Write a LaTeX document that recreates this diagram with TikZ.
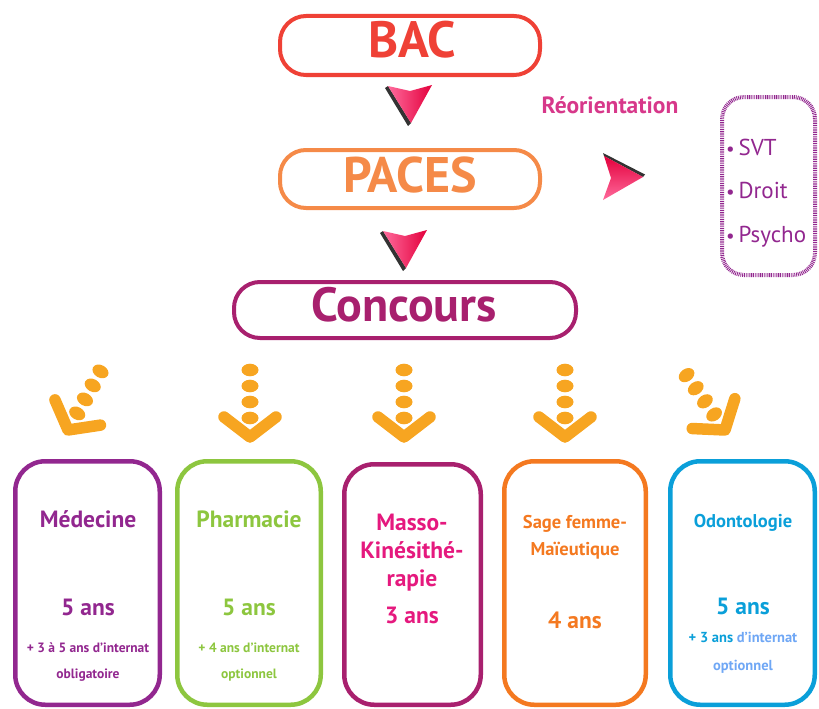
\documentclass[tikz,border=0pt]{standalone}
\usepackage{fontspec}
\setmainfont{PT Sans}
\definecolor{bacred}{HTML}{EF4136}
\definecolor{pacesor}{HTML}{F58A48}
\definecolor{concpur}{HTML}{A8206E}
\definecolor{reopink}{HTML}{D7388A}
\definecolor{medpur}{HTML}{92278F}
\definecolor{pharmgr}{HTML}{8DC63F}
\definecolor{massopk}{HTML}{E5197E}
\definecolor{sageor}{HTML}{F47920}
\definecolor{odonbl}{HTML}{0A9FD9}
\definecolor{odonlt}{HTML}{6FA7F5}
\definecolor{arrorange}{HTML}{F7A521}
\definecolor{pinkL}{HTML}{FF6A9C}
\definecolor{redD}{HTML}{E3003C}
\begin{document}
\begin{tikzpicture}[x=1pt,y=-1pt,
  pill/.style={draw, line width=4pt, rounded corners=26pt, inner sep=0pt},
  card/.style={draw, line width=4.5pt, rounded corners=30pt, inner sep=0pt, minimum height=243.5pt},
  bigtxt/.style={font=\fontsize{50}{50}\selectfont\bfseries, inner sep=0pt},
  cardtitle/.style={font=\fontsize{23.5}{23.5}\selectfont\bfseries, inner sep=0pt, anchor=base},
  cardtitlesm/.style={font=\fontsize{18.5}{18.5}\selectfont\bfseries, inner sep=0pt, anchor=base},
  yrs/.style={font=\fontsize{23.5}{23.5}\selectfont\bfseries, inner sep=0pt, anchor=base},
  note/.style={font=\fontsize{13.5}{13.5}\selectfont\bfseries, inner sep=0pt, anchor=base},
  notebig/.style={font=\fontsize{14.5}{14.5}\selectfont\bfseries, inner sep=0pt, anchor=base},
  item/.style={font=\fontsize{23}{23}\selectfont, text=medpur, inner sep=0pt, anchor=base west},
  dotarrow/.pic={
    \foreach \yy in {-67,-51,-35,-19} \fill[arrorange] (0,\yy) ellipse [x radius=8.5pt, y radius=6.3pt];
    \draw[arrorange, line width=11.5pt, line cap=round, line join=round] (-26,-20) -- (0,0) -- (26,-20);
  },
  redarrow/.pic={
    \fill[black!80] (-25,-16) -- (-2,22) -- (1,19) -- (-22,-18) -- cycle;
    \shade[left color=pinkL, right color=redD] (-22,-18) -- (0,-13) -- (22,-19) -- (1,19) -- cycle;
  }
]
\useasboundingbox (0,0) rectangle (819,709);

% top pills
\node[pill, draw=bacred, minimum width=260pt, minimum height=59pt] (bac) at (410,45.5) {};
\node[bigtxt, text=bacred, font=\fontsize{51}{51}\selectfont\bfseries] (bactxt) at (412,40) {BAC};

\node[pill, draw=pacesor, minimum width=260pt, minimum height=58pt] (paces) at (410,179) {};
\node[bigtxt, text=pacesor] (pacestxt) at (410,175) {PACES};

\node[pill, draw=concpur, minimum width=342pt, minimum height=56pt] (conc) at (405,310) {};
\node[bigtxt, text=concpur, font=\fontsize{48}{48}\selectfont\bfseries] (conctxt) at (404,305) {Concours};

% red arrowheads
\pic (ar1) at (410,104) {redarrow};
\pic (ar2) at (405,249) {redarrow};
\fill[black!80] (603,153) -- (645,174.5) -- (643,177) -- (604,156) -- cycle;
\shade[top color=redD, bottom color=pinkL] (604,156) -- (643,177) -- (603,200) -- (611,178) -- cycle;

% reorientation
\node[font=\fontsize{23.5}{23.5}\selectfont\bfseries, text=reopink, inner sep=0pt, anchor=base] (reo) at (610,113) {Réorientation};
\node[draw=medpur, line width=4pt, dash pattern=on 0.9pt off 0.9pt, rounded corners=22pt, minimum width=93pt, minimum height=178pt, inner sep=0pt] (reobox) at (768.5,186) {};
\node[item] (svt) at (726,155) {{\fontsize{19}{19}\selectfont\textbullet}\,SVT};
\node[item] (droit) at (726,198) {{\fontsize{19}{19}\selectfont\textbullet}\,Droit};
\node[item] (psy) at (726,242) {{\fontsize{19}{19}\selectfont\textbullet}\,Psycho};

% orange dotted arrows
\pic[rotate=-29] (oa1) at (68,430) {dotarrow};
\pic (oa2) at (250,437) {dotarrow};
\pic (oa3) at (404,437) {dotarrow};
\pic (oa4) at (565,437) {dotarrow};
\pic[rotate=35] (oa5) at (725,430) {dotarrow};

% cards
\node[card, draw=medpur, minimum width=144.5pt] (med) at (87.5,583) {};
\node[card, draw=pharmgr, minimum width=143.5pt] (pharm) at (249,583) {};
\node[card, draw=concpur, minimum width=136.5pt, minimum height=240.5pt] (masso) at (412.5,584.5) {};
\node[card, draw=sageor, minimum width=141.5pt] (sage) at (575,583) {};
\node[card, draw=odonbl, minimum width=144.5pt] (odon) at (742.5,583) {};

% card texts
\node[cardtitle, text=medpur] (medt) at (88,527) {Médecine};
\node[yrs, text=medpur] (medy) at (88,615) {5 ans};
\node[note, text=medpur] (medn1) at (88,652) {+ 3 à 5 ans d’internat};
\node[note, text=medpur] (medn2) at (88,678) {obligatoire};

\node[cardtitle, text=pharmgr] (pht) at (249,527) {Pharmacie};
\node[yrs, text=pharmgr] (phy) at (249,615) {5 ans};
\node[note, text=pharmgr] (phn1) at (249,652) {+ 4 ans d’internat};
\node[note, text=pharmgr] (phn2) at (249,678) {optionnel};

\node[cardtitle, text=massopk] (mat1) at (412,530) {Masso-};
\node[cardtitle, text=massopk] (mat2) at (412,558) {Kinésithé-};
\node[cardtitle, text=massopk] (mat3) at (412,586) {rapie};
\node[yrs, text=massopk] (may) at (412,623) {3 ans};

\node[cardtitlesm, text=sageor] (sat1) at (575,528) {Sage femme-};
\node[cardtitlesm, text=sageor] (sat2) at (575,555) {Maïeutique};
\node[yrs, text=sageor] (say) at (575,628) {4 ans};

\node[cardtitlesm, text=odonbl] (odt) at (743,527) {Odontologie};
\node[yrs, text=odonbl] (ody) at (743,614) {5 ans};
\node[notebig] (odn1) at (743,642) {\textcolor{odonbl}{+ 3 ans}\ \textcolor{odonlt}{d’internat}};
\node[notebig, text=odonlt] (odn2) at (743,670) {optionnel};
\end{tikzpicture}
\end{document}
